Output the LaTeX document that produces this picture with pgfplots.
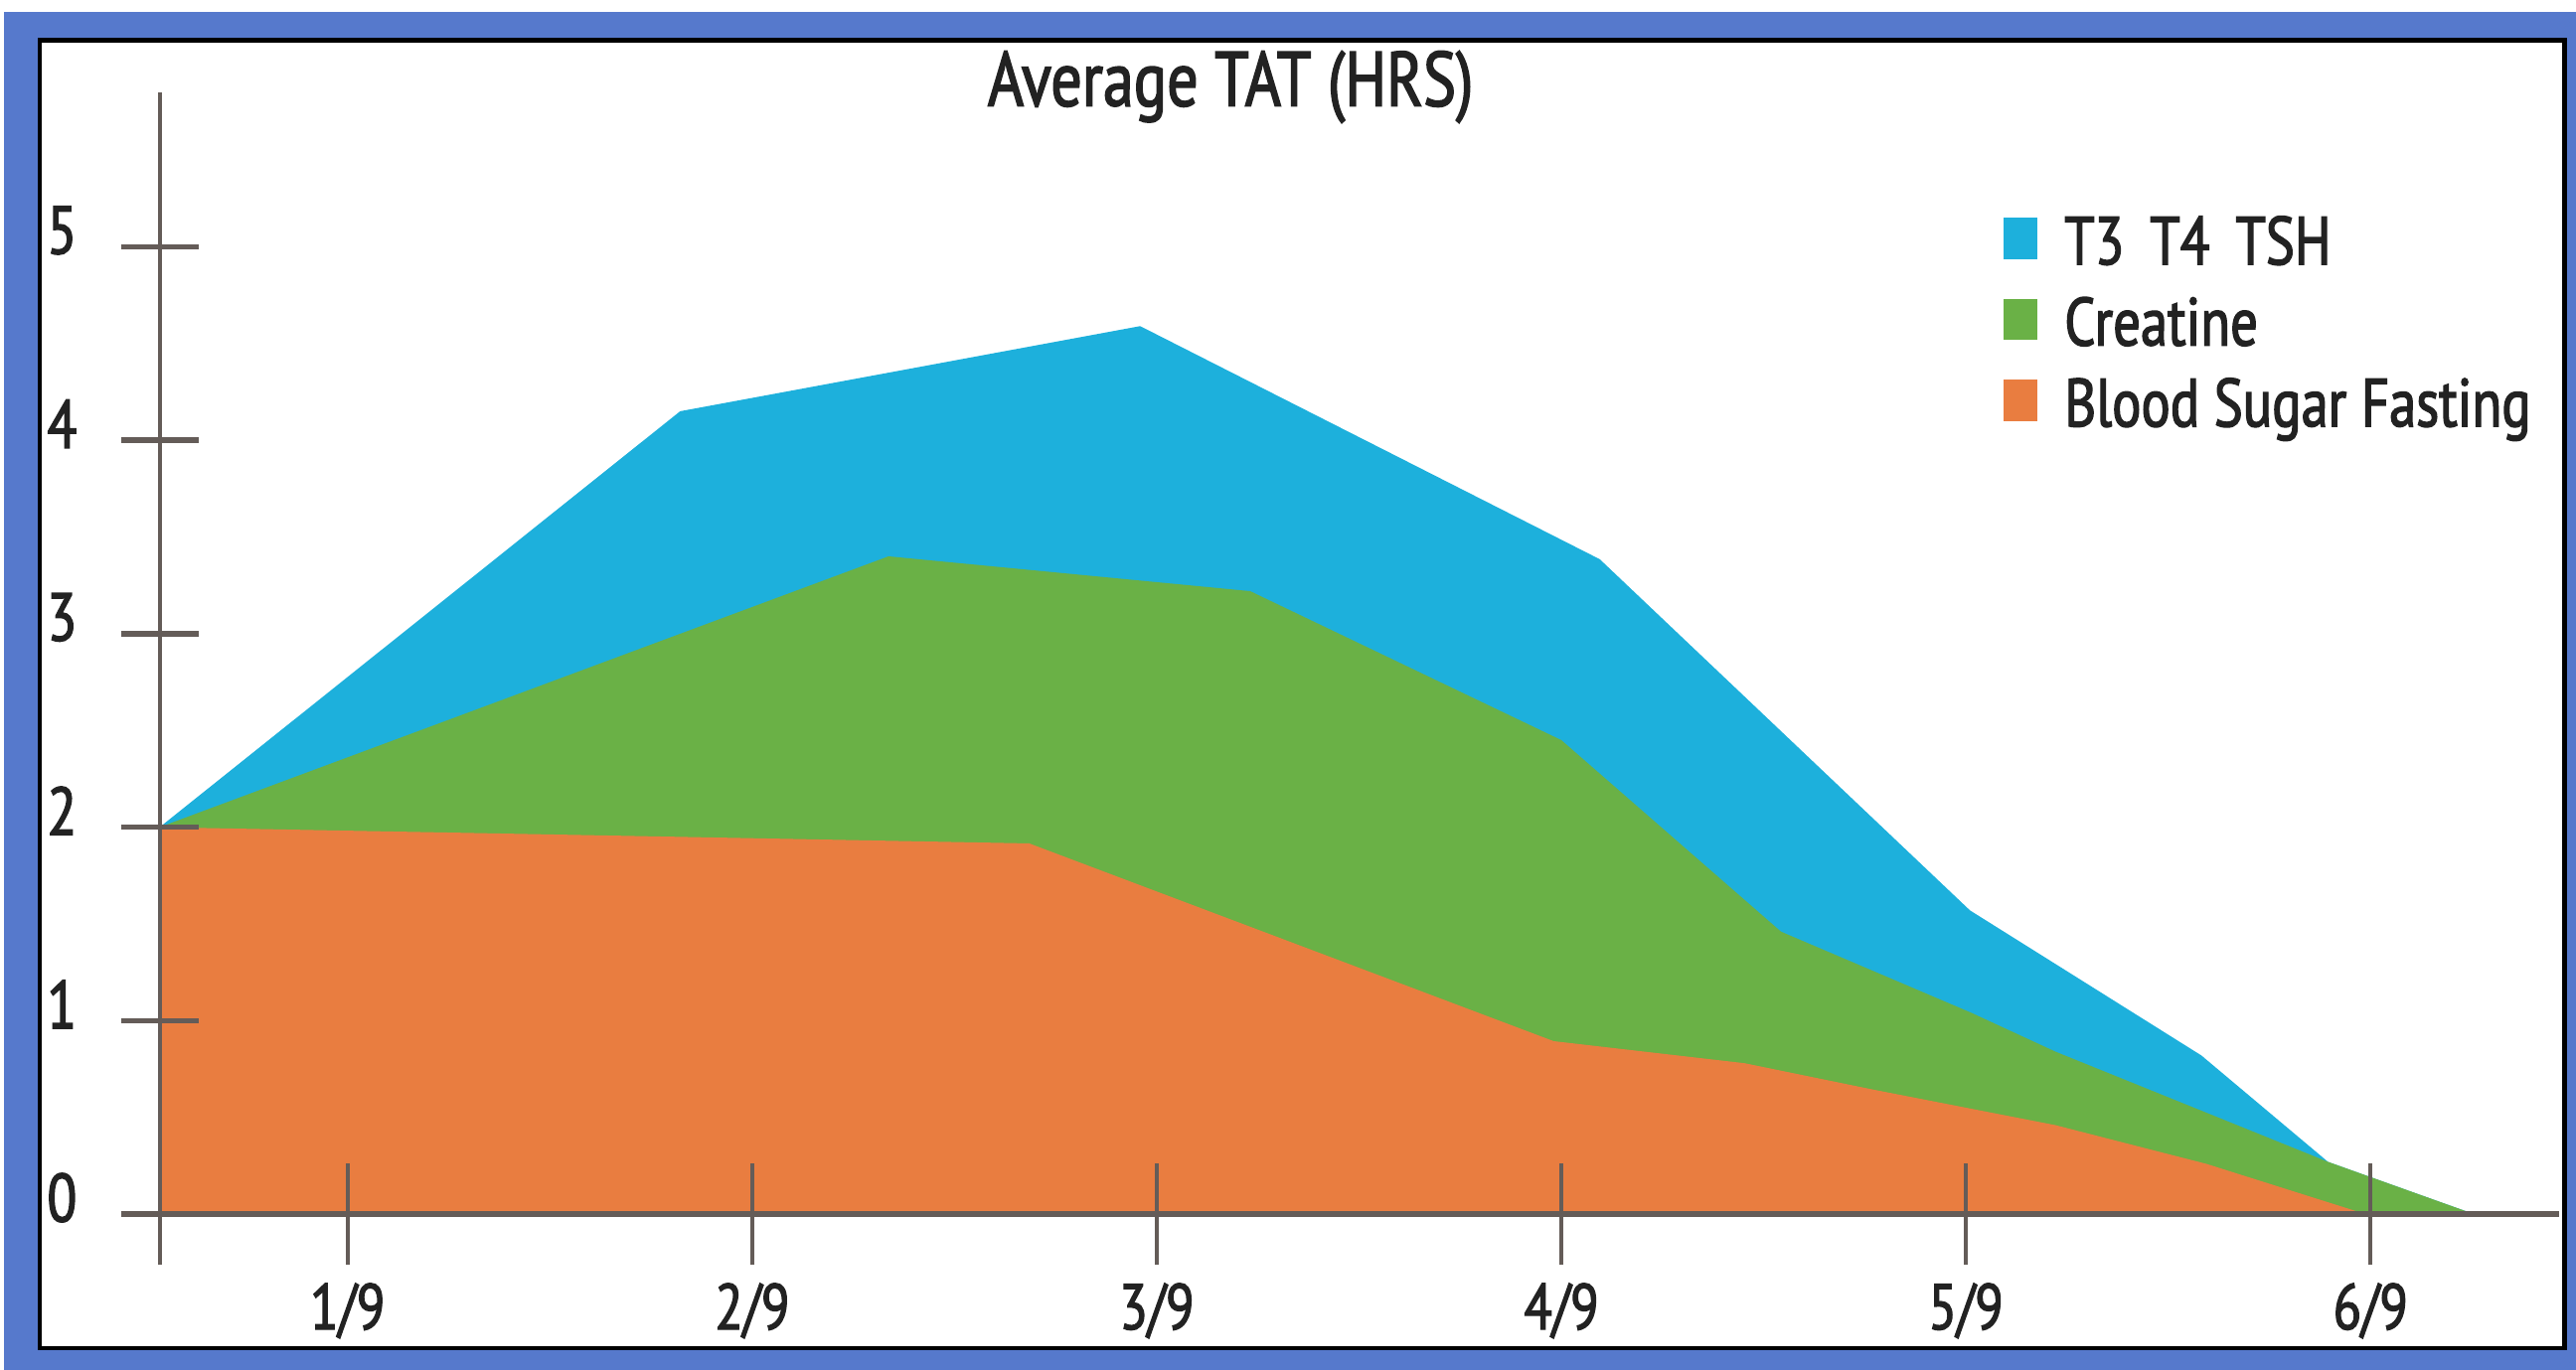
\documentclass[border=0pt]{standalone}
\usepackage{pgfplots}
\pgfplotsset{compat=1.18}
\usepackage{fontspec}
\setmainfont{PT Sans}[FakeStretch=0.8, FakeBold=2]
\definecolor{tblue}{RGB}{29,176,220}
\definecolor{tgreen}{RGB}{106,177,70}
\definecolor{torange}{RGB}{233,125,64}
\definecolor{frameblue}{RGB}{86,121,204}
\definecolor{axgray}{RGB}{100,92,88}
\definecolor{txt}{RGB}{34,34,34}

\begin{document}
\begin{tikzpicture}
% frame, in pixel-like units of the reference (y down)
\begin{scope}[shift={(0pt,250.2pt)}, x=0.3pt, y=-0.3pt]
  \fill[white] (0,0) rectangle (1568,834);
  \fill[frameblue] (2.4,7.2) rectangle (1568,834);
  \filldraw[fill=white, draw=black, line width=0.8pt] (24.2,24.5) rectangle (1561,821);
\end{scope}

\begin{axis}[
  at={(29.16pt,28.41pt)}, anchor=south west,
  scale only axis, width=438.15pt, height=204.84pt,
  xmin=0.5355, xmax=6.466, ymin=0, ymax=5.796,
  clip=false, axis on top,
  axis line style={draw=none},
  tick pos=left,
  xtick={1,2,3,4,5,6},
  xticklabels={1/9,2/9,3/9,4/9,5/9,6/9},
  ytick={0,1,2,3,4,5},
  tick align=center,
  xtick style={axgray, line width=0.8pt, /pgfplots/major tick length=18.6pt},
  ytick style={axgray, line width=1pt, /pgfplots/major tick length=14.2pt},
  /pgf/number format/assume math mode=true,
  xticklabel style={font=\fontsize{11.8}{13}\selectfont, text=txt, anchor=north, inner sep=0pt, yshift=-10.3pt},
  yticklabel style={font=\fontsize{12.4}{14}\selectfont, text=txt, anchor=east, inner sep=0pt, xshift=-12.8pt, yshift=3pt},
  title={Average TAT (HRS)},
  every axis title shift=0pt,
  title style={at={(0.4463,0.9883)}, anchor=base, inner sep=0pt, font=\fontsize{14.1}{16}\selectfont, text=txt},
  legend cell align=left,
  legend style={at={(0.7681,0.8919)}, anchor=north west, draw=none, fill=none, inner sep=0pt,
    row sep=2.8pt, column sep=4.9pt, font=\fontsize{12.4}{14}\selectfont, text=txt,
    nodes={inner sep=0pt, text height=9pt, text depth=3pt}},
  legend image code/.code={\fill[#1] (0pt,-2.0pt) rectangle (6.2pt,5.5pt);},
]

% cumulative tops of the stacked areas, drawn back to front
\addplot[fill=tblue, draw=none] coordinates {
  (0.5355,2.0) (1.822,4.15) (2.959,4.59) (4.095,3.385) (5.010,1.57)
  (5.582,0.82) (5.895,0.27) (6.256,0)
} \closedcycle;
\addlegendentry{T3\, T4\, TSH}

\addplot[fill=tgreen, draw=none] coordinates {
  (0.5355,2.0) (2.337,3.40) (3.231,3.22) (4.0,2.45) (4.543,1.46)
  (5.014,1.04) (5.221,0.84) (5.895,0.27) (6.256,0)
} \closedcycle;
\addlegendentry{Creatine}

\addplot[fill=torange, draw=none] coordinates {
  (0.5355,2.0) (1.823,1.95) (2.685,1.916) (3.981,0.894) (4.453,0.78)
  (4.770,0.644) (5.221,0.46) (5.594,0.26) (5.988,0)
} \closedcycle;
\addlegendentry{Blood Sugar Fasting}

% axis lines, longer than the plot range as in the original
\draw[axgray, line width=1.2pt] (0.446,0) -- (6.466,0);
\draw[axgray, line width=0.7pt] (0.5355,-0.26) -- (0.5355,5.796);
\end{axis}
\end{tikzpicture}
\end{document}
